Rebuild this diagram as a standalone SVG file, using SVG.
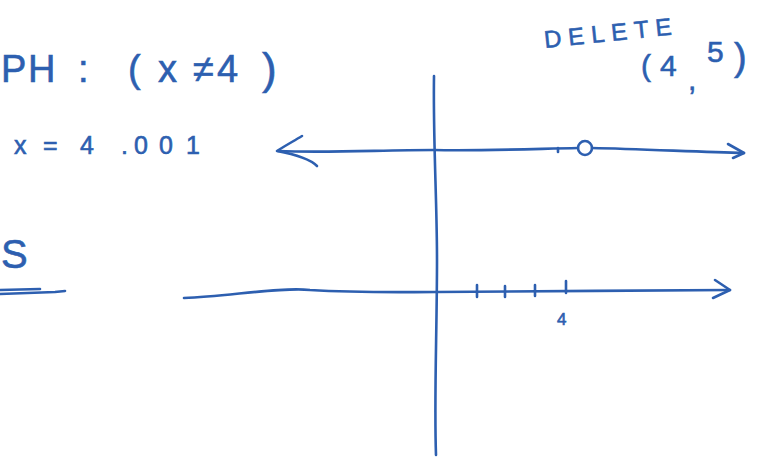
<svg xmlns="http://www.w3.org/2000/svg" width="759" height="466" viewBox="0 0 759 466">
<style>
.ink{fill:none;stroke:#2d5fb0;stroke-width:2.6;stroke-linecap:round;stroke-linejoin:round}
.t{fill:#2d5fb0;stroke:#2d5fb0;stroke-width:0.6;font-family:"Liberation Sans","DejaVu Sans",sans-serif}
</style>
<rect width="759" height="466" fill="#ffffff"/>
<g id="labels">
<text class="t" font-size="38" y="82"><tspan x="1">P</tspan><tspan x="28">H</tspan><tspan x="78">:</tspan><tspan x="128">(</tspan><tspan x="158">x</tspan><tspan x="193">≠</tspan><tspan x="217">4</tspan><tspan x="262" font-size="44" dy="2">)</tspan></text>
<text class="t" font-size="25" y="154"><tspan x="14">x</tspan><tspan x="43">=</tspan><tspan x="80">4</tspan><tspan x="121">.</tspan><tspan x="134">0</tspan><tspan x="159">0</tspan><tspan x="186">1</tspan></text>
<text class="t" font-size="40" x="1" y="268">S</text>
<text class="t" font-size="24" x="545" y="48" transform="rotate(-6 545 48)" textLength="128" lengthAdjust="spacing">DELETE</text>
<text class="t" font-size="30" y="76"><tspan x="641">(</tspan><tspan x="660">4</tspan><tspan x="688" dy="14">,</tspan><tspan x="707" dy="-28">5</tspan><tspan x="734" dy="8" font-size="38">)</tspan></text>
<text class="t" font-size="17" x="557" y="325">4</text>
</g>
<g id="connectors">
<path class="ink" d="M0 290 L40 289 M0 294 L55 292 L65 291"/>
<path class="ink" d="M434 76 C433 140 437 200 437 260 C437 330 434 400 436 455"/>
<path class="ink" d="M278 151 C330 153 380 150 434 150 C480 151 530 149 578 148 M592 148 C640 149 700 152 744 153"/>
<path class="ink" d="M302 136 C292 142 283 147 277 151 C288 153 308 157 317 166"/>
<path class="ink" d="M728 144 L744 153 L733 158"/>
<circle class="ink" cx="585" cy="148" r="7"/>
<path class="ink" d="M558 148 L558 152"/>
<path class="ink" d="M184 298 C230 296 280 287 310 290 C360 293 400 292 436 292 C520 292 640 290 730 290"/>
<path class="ink" d="M715 280 L730 290 L713 298"/>
<path class="ink" d="M477 285 L477 297 M505 286 L505 297 M535 285 L535 296 M566 281 L566 293"/>
</g>
</svg>
